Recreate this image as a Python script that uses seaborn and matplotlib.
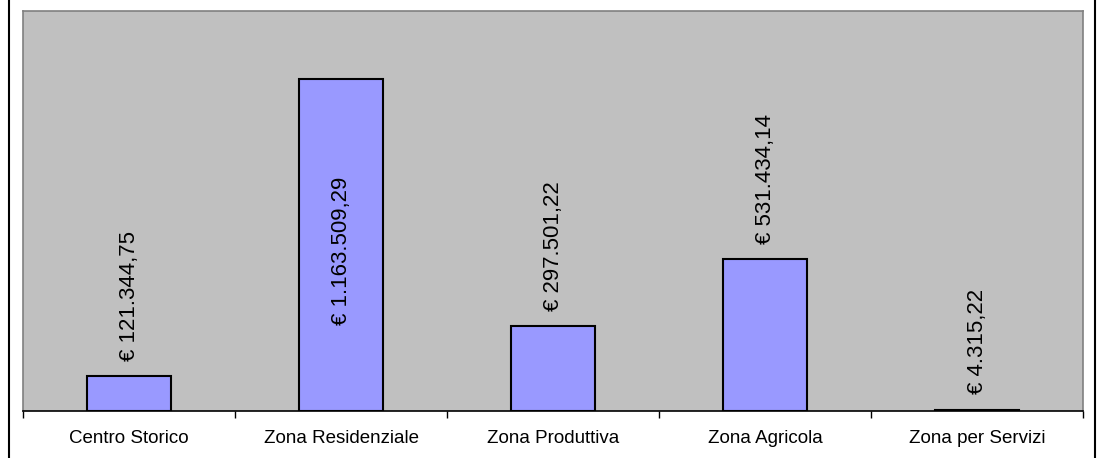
import matplotlib
matplotlib.use('Agg')
import matplotlib.pyplot as plt
import seaborn as sns
import pandas as pd
from matplotlib.lines import Line2D
from matplotlib.ticker import FixedLocator

# Data
zones = ['Centro Storico', 'Zona Residenziale', 'Zona Produttiva', 'Zona Agricola', 'Zona per Servizi']
amounts = [121344.75, 1163509.29, 297501.22, 531434.14, 4315.22]
labels = ['€ 121.344,75', '€ 1.163.509,29', '€ 297.501,22', '€ 531.434,14', '€ 4.315,22']

df = pd.DataFrame({'zona': zones, 'importo': amounts})

sns.set_style('white')
plt.rcParams['font.family'] = ['Liberation Sans', 'DejaVu Sans']
plt.rcParams['text.color'] = 'black'
plt.rcParams['xtick.color'] = 'black'
plt.rcParams['xtick.labelcolor'] = 'black'

fig = plt.figure(figsize=(10.99, 4.58), dpi=100)
ax = fig.add_axes([23 / 1099, 1 - 411 / 458, 1060 / 1099, 400 / 458])
ax.set_facecolor('#C0C0C0')

sns.barplot(data=df, x='zona', y='importo', color='#9999FF', saturation=1,
            edgecolor='black', linewidth=1.5, width=0.4, ax=ax)

ax.set_xlim(-0.5, 4.5)
ax.set_ylim(0, 1400000)
ax.set_xlabel('')
ax.set_ylabel('')
ax.set_yticks([])

# category labels centred, tick marks between categories
ax.set_xticks(range(len(zones)))
ax.set_xticklabels(zones, fontsize=13.5, color='black')
ax.tick_params(axis='x', which='major', bottom=True, length=0, pad=14)
ax.xaxis.set_minor_locator(FixedLocator([i - 0.5 for i in range(len(zones) + 1)]))
ax.tick_params(axis='x', which='minor', bottom=True, length=5, width=1,
               color='black', direction='out')

for side in ['top', 'left', 'right']:
    ax.spines[side].set_color('#808080')
    ax.spines[side].set_linewidth(1.2)
ax.spines['bottom'].set_color('black')
ax.spines['bottom'].set_linewidth(1.2)

# value labels, rotated; the tallest one sits inside its bar
ymax = ax.get_ylim()[1]
for i, (v, txt) in enumerate(zip(amounts, labels)):
    if v > ymax * 0.7:
        ax.text(i, v / 2 - 20000, txt, rotation=90, ha='center', va='center',
                fontsize=16, color='black')
    else:
        ax.annotate(txt, (i, v), xytext=(0, 11), textcoords='offset points',
                    rotation=90, ha='center', va='bottom', fontsize=16, color='black')

# outer frame lines
fig.add_artist(Line2D([8.5 / 1099, 8.5 / 1099], [0, 1], color='black', lw=1.5, transform=fig.transFigure))
fig.add_artist(Line2D([1095 / 1099, 1095 / 1099], [0, 1], color='black', lw=1.5, transform=fig.transFigure))

fig.savefig('out.png', dpi=100)
